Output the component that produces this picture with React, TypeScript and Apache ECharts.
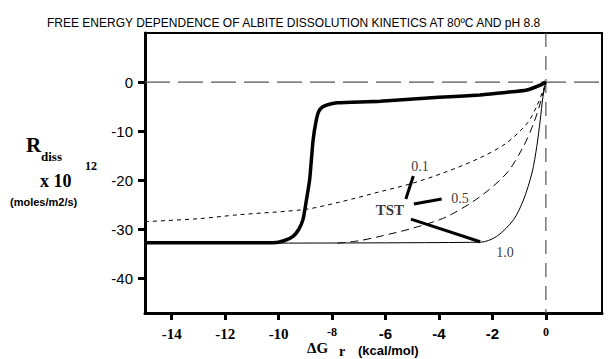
import React, { useEffect, useRef } from "react";
import * as echarts from "echarts";

const xTicks = [-14, -12, -10, -8, -6, -4, -2, 0];
const yTicks = [0, -10, -20, -30, -40];

const mainX = [-15, -10.2, -9.8, -9.46, -9.25, -9.09, -8.96, -8.84, -8.71, -8.6, -8.5, -8.35, -8.1, -7.8, -6.2, -4, -2.46, -1.5, -0.71, -0.21, 0];
const mainY = [-32.7, -32.7, -32.3, -31.4, -30.0, -28.0, -24.0, -19.9, -11.8, -8.0, -6.0, -5.0, -4.5, -4.2, -3.9, -3.1, -2.6, -2.1, -1.6, -0.6, 0];

const c10X = [-15, -2.46, -1.84, -1.21, -0.84, -0.52, -0.34, -0.21, -0.11, 0];
const c10Y = [-32.8, -32.6, -31.4, -28, -24, -18.5, -13.1, -7.7, -3, 0];

const c05X = [-7.8, -7.0, -6.21, -4.96, -3.71, -2.46, -1.46, -0.84, -0.46, -0.21, 0];
const c05Y = [-32.8, -32.3, -31.4, -29.7, -27.4, -23.3, -18.5, -13.1, -8.4, -4.3, 0];

const c01X = [-15, -13, -11.5, -9, -7.7, -6.2, -5, -3.7, -2.5, -1.5, -0.7, -0.35, -0.1, 0];
const c01Y = [-28.4, -27.8, -27, -25.9, -24.4, -22.3, -20.6, -18.2, -15.5, -12.5, -8.4, -5, -1.6, 0];

// leader lines from "TST" to the curve labels
const lead01 = [[-5.24, -23.8], [-4.96, -19.1]];
const lead05 = [[-4.94, -24.8], [-3.9, -23.8]];
const lead10 = [[-5.05, -27.9], [-2.46, -32.5]];

const labelNames = ["0.1", "0.5", "TST", "1.0"];
const labelX = [-4.71, -3.21, -5.84, -1.53];
const labelY = [-17.2, -23.6, -26, -34.7];

const zip = (xs: number[], ys: number[]) => xs.map((x, i) => [x, ys[i]]);

export default function App() {
  const ref = useRef<HTMLDivElement>(null);
  useEffect(() => {
    if (!ref.current) return;
    const chart = echarts.init(ref.current, null, { renderer: "svg" });
    const serif = "Liberation Serif";
    const sans = "Liberation Sans";
    const option: any = {
      animation: false,
      title: {
        text: "FREE ENERGY DEPENDENCE OF ALBITE DISSOLUTION KINETICS AT 80ºC AND pH 8.8",
        left: 42,
        top: 12,
        textStyle: { fontFamily: sans, fontSize: 12, fontWeight: "normal", color: "#000" },
      },
      grid: {
        left: 145,
        right: 8,
        top: 33,
        bottom: 46,
        show: true,
        borderColor: "#000",
        borderWidth: 2,
      },
      xAxis: {
        type: "value",
        min: -15,
        max: 2.1,
        splitLine: { show: false },
        axisLine: { onZero: false, lineStyle: { color: "#000", width: 3 } },
        axisTick: { customValues: xTicks, length: 7, lineStyle: { width: 3, color: "#000" } },
        axisLabel: {
          customValues: xTicks,
          margin: 13,
          formatter: (v: number) => {
            if (v === -8) return "{s|-8}";
            if (v === 0) return "{z|0}";
            if (v <= -10) return "{a|" + v + "}";
            return "{b|" + v + "}";
          },
          rich: {
            a: { fontFamily: serif, fontWeight: "bold", fontSize: 15, color: "#000" },
            b: { fontFamily: sans, fontWeight: "bold", fontSize: 15, color: "#000" },
            s: { fontFamily: serif, fontWeight: "bold", fontSize: 12, color: "#000" },
            z: { fontFamily: serif, fontWeight: "bold", fontSize: 12, color: "#000" },
          },
        },
      },
      yAxis: {
        type: "value",
        min: -47,
        max: 10,
        splitLine: { show: false },
        axisLine: { onZero: false, lineStyle: { color: "#000", width: 3 } },
        axisTick: { customValues: yTicks, length: 7, lineStyle: { width: 3, color: "#000" } },
        axisLabel: {
          customValues: yTicks,
          margin: 12,
          fontFamily: sans,
          fontSize: 15,
          color: "#000",
        },
      },
      graphic: [
        { type: "text", left: 26, top: 134, style: { text: "R", font: "bold 21px Liberation Serif", fill: "#000" } },
        { type: "text", left: 41, top: 150, style: { text: "diss", font: "bold 13px Liberation Serif", fill: "#000" } },
        { type: "text", left: 85, top: 160, style: { text: "12", font: "bold 12px Liberation Serif", fill: "#000" } },
        { type: "text", left: 40, top: 172, style: { text: "x 10", font: "bold 18px Liberation Serif", fill: "#000" } },
        { type: "text", left: 10, top: 196, style: { text: "(moles/m2/s)", font: "bold 11px Liberation Sans", fill: "#000" } },
        { type: "text", left: 307, top: 340, style: { text: "ΔG", font: "bold 15px Liberation Serif", fill: "#000" } },
        { type: "text", left: 339, top: 344, style: { text: "r", font: "bold 14px Liberation Serif", fill: "#000" } },
        { type: "text", left: 358, top: 344, style: { text: "(kcal/mol)", font: "bold 13px Liberation Sans", fill: "#000" } },
      ],
      series: [
        {
          type: "line",
          data: [[-15, 0], [2.1, 0]],
          symbol: "none",
          lineStyle: { color: "#555", width: 1.2, type: [25, 8] },
        },
        {
          type: "line",
          data: [[0, 10], [0, -47]],
          symbol: "none",
          lineStyle: { color: "#555", width: 1.2, type: [14, 9] },
        },
        {
          type: "line",
          data: zip(c01X, c01Y),
          symbol: "none",
          smooth: 0.3,
          lineStyle: { color: "#000", width: 1, type: [4, 4] },
        },
        {
          type: "line",
          data: zip(c05X, c05Y),
          symbol: "none",
          smooth: 0.3,
          lineStyle: { color: "#000", width: 1, type: [8, 5] },
        },
        {
          type: "line",
          data: zip(c10X, c10Y),
          symbol: "none",
          smooth: 0.3,
          lineStyle: { color: "#000", width: 1 },
        },
        {
          type: "line",
          data: zip(mainX, mainY),
          symbol: "none",
          smooth: 0.2,
          lineStyle: { color: "#000", width: 3.5 },
        },
        { type: "line", data: lead01, symbol: "none", lineStyle: { color: "#000", width: 3 } },
        { type: "line", data: lead05, symbol: "none", lineStyle: { color: "#000", width: 3 } },
        { type: "line", data: lead10, symbol: "none", lineStyle: { color: "#000", width: 3 } },
        {
          type: "scatter",
          symbolSize: 0,
          itemStyle: { color: "#000" },
          data: labelNames.map((n, i) => ({ name: n, value: [labelX[i], labelY[i]] })),
          label: {
            show: true,
            position: "inside",
            color: "#000",
            textBorderWidth: 0,
            formatter: (p: any) => (p.name === "TST" ? "{t|TST}" : "{n|" + p.name + "}"),
            rich: {
              t: { fontFamily: serif, fontWeight: "bold", fontSize: 15, color: "#000" },
              n: { fontFamily: serif, fontSize: 14, color: "#000" },
            },
          },
        },
      ],
    };
    chart.setOption(option);
    return () => chart.dispose();
  }, []);
  return <div ref={ref} style={{ width: 610, height: 359, position: "absolute", left: 0, top: 0 }} />;
}
